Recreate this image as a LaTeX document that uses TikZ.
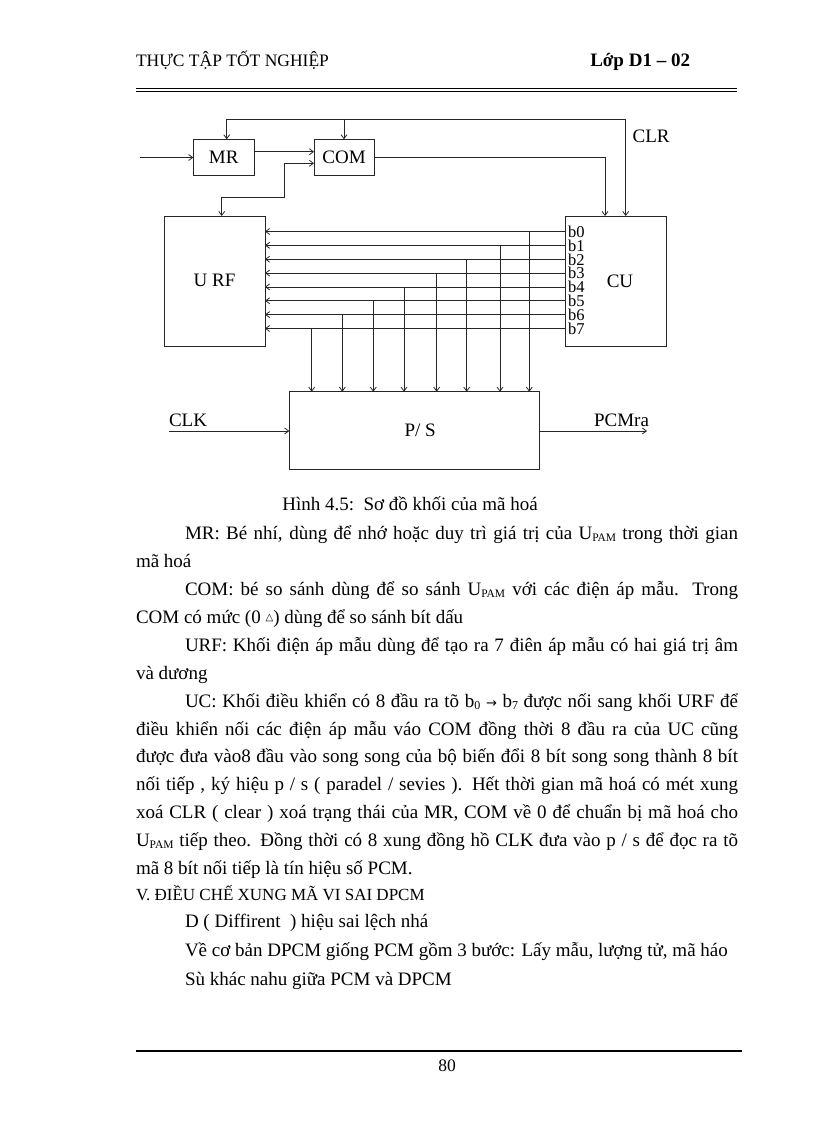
\documentclass[tikz,border=0pt]{standalone}
\usepackage{fontspec}
\setmainfont{Liberation Serif}
\newfontfamily\symfont{DejaVu Sans}
\usetikzlibrary{arrows.meta}
\newcommand{\myupam}{U\raisebox{-0.25ex}{\fontsize{11.5}{11.5}\selectfont PAM}}
\newcommand{\mysub}[1]{\raisebox{-0.3ex}{\fontsize{12}{12}\selectfont #1}}
\begin{document}
\begin{tikzpicture}[x=1pt,y=-1pt,
  every node/.style={inner sep=0pt, outer sep=0pt},
  blk/.style={draw=black!85, line width=0.8pt, fill=none, font=\fontsize{19}{19}\selectfont},
  lbl/.style={font=\fontsize{19}{19}\selectfont},
  blabel/.style={anchor=base west, text height=9pt, text depth=1pt, font=\fontsize{16.5}{16.5}\selectfont},
  arr/.style={draw=black!85, line width=0.8pt, -{Straight Barb[length=4pt,width=6pt]}},
  arrboth/.style={draw=black!85, line width=0.8pt, {Straight Barb[length=4pt,width=6pt]}-{Straight Barb[length=4pt,width=6pt]}},
  body/.style={anchor=base west, font=\fontsize{19}{22}\selectfont},
  head/.style={anchor=base west, font=\fontsize{17}{20}\selectfont}
]
\useasboundingbox (0,0) rectangle (816,1123);

% header
\node[anchor=base west, font=\fontsize{17.5}{20}\selectfont] (hdrl) at (136,66.5) {THỰC TẬP TỐT NGHIỆP};
\node[anchor=base east, font=\fontsize{19}{22}\selectfont\bfseries] (hdrr) at (690,66.5) {Lớp D1 – 02};
\coordinate (r1a) at (136,88); \coordinate (r1b) at (737,88);
\coordinate (r2a) at (136,91.6); \coordinate (r2b) at (737,91.6);
\draw[line width=0.8pt] (r1a) -- (r1b);
\draw[line width=1.4pt] (r2a) -- (r2b);

% blocks
\node[blk, minimum width=60.7pt, minimum height=36.4pt] (mr) at (223.65,157.5) {MR};
\node[blk, minimum width=60pt, minimum height=36.4pt] (com) at (344,157.5) {COM};
\node[blk, minimum width=101pt, minimum height=130.7pt] (urf) at (214.5,281.35) {\raisebox{3pt}{U RF}};
\node[blk, minimum width=101pt, minimum height=130.7pt] (cu) at (615.5,281.35) {\hspace*{9pt}CU};
\node[blk, minimum width=249.7pt, minimum height=77.6pt] (ps) at (414.15,430.5) {\hspace*{12pt}P/ S};

% top CLR line
\coordinate (tl) at (226.7,119.3);
\coordinate (tr) at (625.7,119.3);
\draw[arr] (tl) -- (tl |- mr.north);
\draw[arr] (tl) -- (tr) -- (tr |- cu.north);
\draw[arr] (com.north |- tl) -- (com.north);
\node[lbl, anchor=west] (clr) at (632.7,136.7) {CLR};

% MR input and MR -> COM
\coordinate (inmr) at (140,157.5);
\draw[arr] (inmr) -- (mr.west);
\draw[arr] ([yshift=5.8pt]mr.east) -- ([yshift=5.8pt]com.west);

% URF <-> COM second input
\coordinate (bend1) at (284.3,197.3);
\draw[arrboth] ([xshift=7.2pt]urf.north) |- (bend1) |- ([yshift=-5.8pt]com.west);

% COM -> CU
\coordinate (cuin) at ([xshift=-10.5pt]cu.north);
\draw[arr] (com.east) -| (cuin);

% bit lines
\foreach \i/\y/\x in {0/231.5/529.3, 1/245.35/500, 2/259.2/466.7, 3/273.05/436.7, 4/286.9/404, 5/300.75/373.3, 6/314.6/342.3, 7/328.45/311.7} {
  \coordinate (j\i) at (\x,\y);
  \node[blabel] (b\i) at (568,\y+5.8) {b\i};
  \draw[arr] (cu.west |- j\i) -- (urf.east |- j\i);
  \draw[arr] (j\i) -- (j\i |- ps.north);
}

% CLK and PCMra
\node[lbl, anchor=west] (clk) at (169,420) {CLK};
\coordinate (clkin) at (169,431);
\draw[arr] (clkin) -- (clkin -| ps.west);
\node[lbl, anchor=east] (pcm) at (649,420) {PCMra};
\coordinate (pcmout) at (647,431);
\draw[arr] (pcmout -| ps.east) -- (pcmout);

% caption
\node[lbl, anchor=base] (cap) at (410,510) {Hình 4.5:\ \ Sơ đồ khối của mã hoá};

% body text
\node[body] (l1) at (185,539.7) {\makebox[553pt][s]{MR: Bé nhí, dùng để nhớ hoặc duy trì giá trị của \myupam{} trong thời gian}};
\node[body] (l2) at (136,567.6) {mã hoá};
\node[body] (l3) at (185,595.5) {\makebox[553pt][s]{COM: bé so sánh dùng để so sánh \myupam{} với các điện áp mẫu. Trong}};
\node[body] (l4) at (136,623.4) {COM có mức (0 \raisebox{0.3ex}{\symfont\fontsize{10}{10}\selectfont △}) dùng để so sánh bít dấu};
\node[body] (l5) at (185,651.3) {\makebox[553pt][s]{URF: Khối điện áp mẫu dùng để tạo ra 7 điên áp mẫu có hai giá trị âm}};
\node[body] (l6) at (136,679.2) {và dương};
\node[body] (l7) at (185,707.1) {\makebox[553pt][s]{UC: Khối điều khiển có 8 đầu ra tõ b\mysub{0} {\symfont\fontsize{13}{13}\selectfont →} b\mysub{7} được nối sang khối URF để}};
\node[body] (l8) at (136,735) {\makebox[602pt][s]{điều khiển nối các điện áp mẫu váo COM đồng thời 8 đầu ra của UC cũng}};
\node[body] (l9) at (136,762.9) {\makebox[602pt][s]{được đưa vào8 đầu vào song song của bộ biến đổi 8 bít song song thành 8 bít}};
\node[body] (l10) at (136,790.8) {\makebox[602pt][s]{nối tiếp , ký hiệu p / s ( paradel / sevies ). Hết thời gian mã hoá có mét xung}};
\node[body] (l11) at (136,818.7) {\makebox[602pt][s]{xoá CLR ( clear ) xoá trạng thái của MR, COM về 0 để chuẩn bị mã hoá cho}};
\node[body] (l12) at (136,846.6) {\makebox[602pt][s]{\myupam{} tiếp theo. Đồng thời có 8 xung đồng hồ CLK đưa vào p / s để đọc ra tõ}};
\node[body] (l13) at (136,874.5) {mã 8 bít nối tiếp là tín hiệu số PCM.};
\node[head] (l14) at (136,900) {V. ĐIỀU CHẾ XUNG MÃ VI SAI DPCM};
\node[body] (l15) at (185,927) {D ( Diffirent \ ) hiệu sai lệch nhá};
\node[body] (l16) at (185,956) {Về cơ bản DPCM giống PCM gồm 3 bước: Lấy mẫu, lượng tử, mã háo};
\node[body] (l17) at (185,985) {Sù khác nahu giữa PCM và DPCM};

% footer
\coordinate (fa) at (136,1051); \coordinate (fb) at (742,1051);
\draw[line width=2pt] (fa) -- (fb);
\node[font=\fontsize{17.5}{20}\selectfont, anchor=base] (pg) at (447,1071) {80};
\end{tikzpicture}
\end{document}
